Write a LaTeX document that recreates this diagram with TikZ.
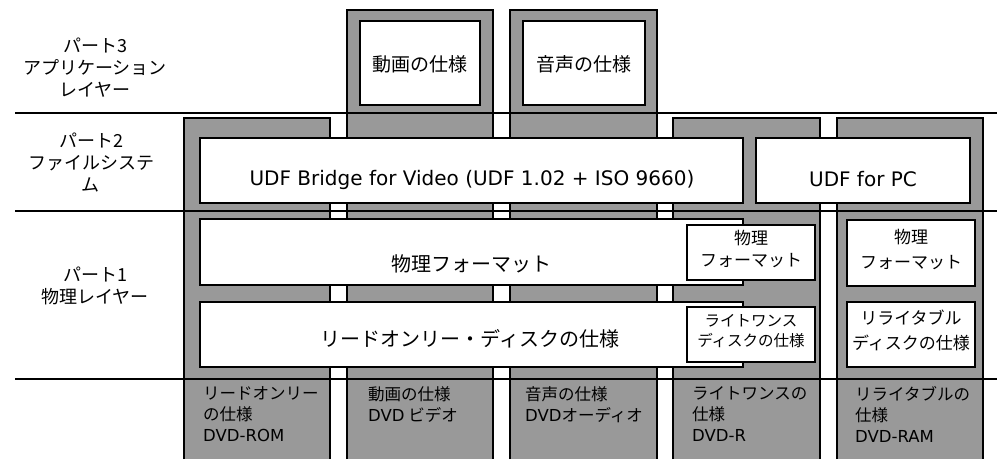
\documentclass[tikz,border=0pt]{standalone}
\usepackage{fontspec}
\setmainfont{Noto Sans CJK JP}
\newfontfamily\lat{DejaVu Sans}
\definecolor{colgray}{RGB}{153,153,153}
\tikzset{
  colbox/.style={fill=colgray,draw=black,line width=1.5pt},
  wbox/.style={draw=black,fill=white,line width=1.6pt,inner sep=0pt},
  layerline/.style={draw=black,line width=1.2pt},
  lbl/.style={inner sep=0pt,align=center,font=\fontsize{18}{22}\selectfont},
  big/.style={inner sep=0pt,font=\fontsize{20}{24}\selectfont},
  small/.style={inner sep=0pt,align=center,font=\fontsize{17}{24}\selectfont},
  bot/.style={inner sep=0pt,anchor=north west,align=left,font=\fontsize{16.5}{21}\selectfont},
}
\begin{document}
\begin{tikzpicture}[x=1pt,y=-1pt]
\useasboundingbox (0,0) rectangle (997,459);
% columns
\path[colbox] (184,459) -- (184,118) -- (330,118) -- (330,459);
\path[colbox] (347,459) -- (347,10) -- (493,10) -- (493,459);
\path[colbox] (510,459) -- (510,10) -- (657,10) -- (657,459);
\path[colbox] (673,459) -- (673,118) -- (820,118) -- (820,459);
\path[colbox] (837,459) -- (837,118) -- (983,118) -- (983,459);
% white boxes
\node[wbox,minimum width=120pt,minimum height=84pt] (video) at (420,63) {};
\node[wbox,minimum width=122pt,minimum height=84pt] (audio) at (584,63) {};
\node[wbox,minimum width=543pt,minimum height=65pt] (udfb) at (471.5,170.5) {};
\node[wbox,minimum width=214pt,minimum height=65pt] (udfpc) at (863,170.5) {};
\node[wbox,minimum width=543pt,minimum height=66pt] (phys) at (471.5,252) {};
\node[wbox,minimum width=543pt,minimum height=65pt] (rom) at (471.5,334.5) {};
\node[wbox,minimum width=128pt,minimum height=55pt] (physw) at (751,252.5) {};
\node[wbox,minimum width=128pt,minimum height=55pt] (wo) at (751,334.5) {};
\node[wbox,minimum width=128pt,minimum height=66pt] (physr) at (911,253) {};
\node[wbox,minimum width=128pt,minimum height=65pt] (rw) at (911,334.5) {};
% box texts
\node[big,font=\fontsize{19}{24}\selectfont] (tvideo) at (420,64) {動画の仕様};
\node[big,font=\fontsize{19}{24}\selectfont] (taudio) at (584,64) {音声の仕様};
\node[big,font=\lat\fontsize{20}{24}\selectfont] (tudfb) at (472,180) {UDF Bridge for Video (UDF 1.02 + ISO 9660)};
\node[big,font=\lat\fontsize{20}{24}\selectfont] (tudfpc) at (863,179) {UDF for PC};
\node[big] (tphys) at (471,264) {物理フォーマット};
\node[big] (trom) at (470,339) {リードオンリー・ディスクの仕様};
\node[small,font=\fontsize{17}{22}\selectfont] (tphysw) at (751,249) {物理\\フォーマット};
\node[small,font=\fontsize{15.5}{20}\selectfont] (two) at (751,331) {ライトワンス\\ディスクの仕様};
\node[small,font=\fontsize{17}{25}\selectfont] (tphysr) at (911,249.5) {物理\\フォーマット};
\node[small,font=\fontsize{17}{25}\selectfont] (trw) at (911,330.5) {リライタブル\\ディスクの仕様};
% layer labels
\node[lbl] (p3) at (95,67.5) {パート3\\アプリケーション\\レイヤー};
\node[lbl] (p2) at (91,162.5) {パート2\\ファイルシステ\\ム};
\node[lbl] (p1) at (95,285.5) {パート1\\物理レイヤー};
% bottom texts
\node[bot] (b1) at (203,386) {リードオンリー\\の仕様\\{\lat DVD-ROM}};
\node[bot] (b2) at (368,386) {動画の仕様\\{\lat DVD} ビデオ};
\node[bot] (b3) at (525,386) {音声の仕様\\{\lat DVD}オーディオ};
\node[bot] (b4) at (692,386) {ライトワンスの\\仕様\\{\lat DVD-R}};
\node[bot] (b5) at (855,386) {リライタブルの\\仕様\\{\lat DVD-RAM}};
% layer lines
\coordinate (l1a) at (15,113); \coordinate (l1b) at (997,113);
\coordinate (l2a) at (15,211); \coordinate (l2b) at (997,211);
\coordinate (l3a) at (15,379); \coordinate (l3b) at (997,379);
\draw[layerline] (l1a) -- (l1b);
\draw[layerline] (l2a) -- (l2b);
\draw[layerline] (l3a) -- (l3b);
\end{tikzpicture}
\end{document}
